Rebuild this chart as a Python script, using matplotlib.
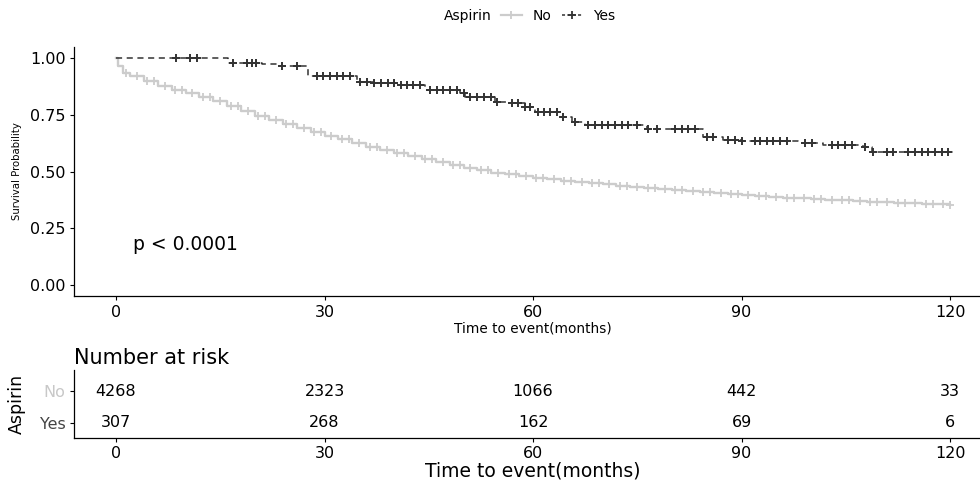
import numpy as np
import matplotlib
matplotlib.use("Agg")
import matplotlib.pyplot as plt
from matplotlib.lines import Line2D

plt.rcParams['font.family'] = ['DejaVu Sans']

# Aspirin = No : step times (months) and survival after each step
no_time = [0, 0.3, 1, 2, 4, 6, 8, 10, 12, 14, 16, 18, 20, 22, 24, 26, 28, 30,
           32, 34, 36, 38, 40, 42, 44, 46, 48, 50, 52, 54, 56, 58, 60, 62, 64,
           66, 68, 70, 72, 74, 76, 78, 80, 82, 84, 86, 88, 90, 92, 94, 96, 98,
           100, 102, 104, 106, 108, 110, 112, 114, 116, 118, 120]
no_surv = [1.0, 0.965, 0.935, 0.92, 0.9, 0.877, 0.86, 0.845, 0.828, 0.81,
           0.79, 0.765, 0.745, 0.728, 0.71, 0.693, 0.675, 0.658, 0.642, 0.625,
           0.61, 0.595, 0.58, 0.567, 0.553, 0.54, 0.527, 0.516, 0.505, 0.495,
           0.487, 0.479, 0.472, 0.466, 0.46, 0.454, 0.448, 0.443, 0.438, 0.433,
           0.428, 0.424, 0.419, 0.414, 0.409, 0.404, 0.4, 0.396, 0.392, 0.388,
           0.385, 0.382, 0.379, 0.376, 0.373, 0.37, 0.367, 0.364, 0.362, 0.36,
           0.358, 0.356, 0.354]
no_censor = [1.5, 3, 4.5, 5.5, 7, 8.5, 9.5, 11, 12.5, 13.5, 15, 16.5, 17.5,
             19, 20.5, 21.5, 23, 24.5, 25.5, 27, 28.5, 29.5, 31, 32.5, 33.5,
             35, 36.5, 37.5, 39, 40.5, 41.5, 43, 44.5, 45.5, 47, 48.5, 49.5,
             51, 52.5, 53.5, 55, 56.5, 57.5, 59, 60.5, 61.5, 63, 64.5, 65.5,
             67, 68.5, 69.5, 71, 72.5, 73.5, 75, 76.5, 77.5, 79, 80.5, 81.5,
             83, 84.5, 85.5, 87, 88.5, 89.5, 91, 92.5, 93.5, 95, 96.5, 97.5,
             99, 100.5, 101.5, 103, 104.5, 105.5, 107, 108.5, 109.5, 111,
             112.5, 113.5, 115, 116.5, 117.5, 119, 120]

# Aspirin = Yes
yes_time = [0, 16.1, 21, 23.6, 27.6, 34.7, 37, 41, 44.5, 49.5, 50.2, 54.5,
            56.3, 58.8, 60.3, 63.9, 65.6, 67.5, 76.4, 84.5, 87.3, 90, 98.1,
            101.7, 107.5, 108.8, 120.4]
yes_surv = [1.0, 0.98, 0.975, 0.966, 0.922, 0.895, 0.89, 0.88, 0.86, 0.845,
            0.83, 0.807, 0.8, 0.785, 0.763, 0.741, 0.72, 0.705, 0.686, 0.653,
            0.639, 0.636, 0.626, 0.617, 0.61, 0.587, 0.587]
yes_censor = [8.7, 10.6, 11.6, 16.9, 18.8, 19.5, 20.2, 23.9, 26, 28.9, 29.8,
              30.8, 31.8, 32.7, 33.7, 35.1, 36.1, 37.1, 38.1, 39.1, 40, 41,
              41.9, 42.8, 43.7, 45.2, 46.2, 47.1, 48, 49, 50, 51, 52, 53,
              54, 54.8, 57, 57.9, 58.8, 59.6, 60.7, 61.6, 62.5, 63.4, 64.3,
              66, 67.9, 68.9, 69.9, 70.8, 71.8, 72.8, 73.7, 75, 76.5, 77.8,
              80.4, 81.4, 82.3, 83.3, 85, 85.9, 88, 89, 90, 91.9, 92.7, 93.6,
              94.6, 95.5, 96.5, 99.1, 100.1, 103, 103.9, 104.9, 105.9, 107.8,
              108.9, 110.9, 111.8, 114, 115, 116, 116.8, 117.8, 118.8, 119.7]

risk_times = [0, 30, 60, 90, 120]
risk_no = [4268, 2323, 1066, 442, 33]
risk_yes = [307, 268, 162, 69, 6]

c_no = '#cccccc'
c_yes = '#333333'


def surv_at(times, surv, t):
    idx = np.searchsorted(times, t, side='right') - 1
    return np.asarray(surv)[idx]


fig = plt.figure(figsize=(9.8, 4.82), dpi=100)
W, H = 980.0, 482.0
x_left, x_right = 74.3, 991.7

ax = fig.add_axes([x_left / W, 1 - 296.35 / H, (x_right - x_left) / W, (296.35 - 46.65) / H])
ax.step(no_time, no_surv, where='post', color=c_no, lw=1.7)
ax.plot(no_censor, surv_at(no_time, no_surv, no_censor), '+', color=c_no, ms=5.5, mew=1.3)
ax.step(yes_time, yes_surv, where='post', color=c_yes, lw=1.1, ls=(0, (4, 3)))
ax.plot(yes_censor, surv_at(yes_time, yes_surv, yes_censor), '+', color=c_yes, ms=5.8, mew=1.4)

ax.set_xlim(-6, 126)
ax.set_ylim(-0.05, 1.05)
ax.set_xticks(risk_times)
ax.set_yticks([0, 0.25, 0.5, 0.75, 1.0])
ax.set_yticklabels(['0.00', '0.25', '0.50', '0.75', '1.00'])
ax.tick_params(labelsize=11.5, length=3, width=0.8, colors='black', pad=3)
for s in ['top', 'right']:
    ax.spines[s].set_visible(False)
for s in ['left', 'bottom']:
    ax.spines[s].set_linewidth(0.9)
ax.set_xlabel('Time to event(months)', fontsize=9.8, labelpad=1)
ax.set_ylabel('Survival Probability', fontsize=7.3, labelpad=6)
ax.text(2.5, 0.18, 'p < 0.0001', fontsize=13.5, va='center')

# legend on top
fig.text(492 / W, 1 - 15.6 / H, 'Aspirin', fontsize=10, ha='right', va='center')
handles = [Line2D([], [], color=c_no, lw=1.6, marker='+', ms=5.5, mew=1.3),
           Line2D([], [], color=c_yes, lw=1.1, ls=(0, (2, 1.5)), marker='+', ms=5.5, mew=1.3)]
fig.legend(handles, ['No', 'Yes'], loc='center left', bbox_to_anchor=(501 / W, 1 - 15.6 / H),
           ncol=2, frameon=False, fontsize=10, handlelength=1.5, handletextpad=0.8,
           columnspacing=0.7, borderpad=0, borderaxespad=0)

# risk table
ax2 = fig.add_axes([x_left / W, 1 - 438 / H, (x_right - x_left) / W, (438 - 370) / H])
for t, n_no, n_yes in zip(risk_times, risk_no, risk_yes):
    ax2.text(t, 2, str(n_no), ha='center', va='center', fontsize=11.5)
    ax2.text(t, 1, str(n_yes), ha='center', va='center', fontsize=11.5)
ax2.set_xlim(-6, 126)
ax2.set_ylim(0.53, 2.66)
ax2.set_xticks(risk_times)
ax2.set_yticks([1, 2])
ax2.set_yticklabels(['Yes', 'No'])
ax2.get_yticklabels()[0].set_color('#444444')
ax2.get_yticklabels()[1].set_color('#c8c8c8')
ax2.tick_params(axis='x', labelsize=11.5, length=3, width=0.8, pad=3)
ax2.tick_params(axis='y', labelsize=11.5, length=3, width=0.8)
for s in ['top', 'right']:
    ax2.spines[s].set_visible(False)
for s in ['left', 'bottom']:
    ax2.spines[s].set_linewidth(0.9)
ax2.set_xlabel('Time to event(months)', fontsize=13.5, labelpad=0)
ax2.set_ylabel('Aspirin', fontsize=12.5)
ax2.yaxis.set_label_coords(-0.053, 0.5)
ax2.set_title('Number at risk', fontsize=15, loc='left', pad=4)

fig.savefig('out.png', dpi=100)
